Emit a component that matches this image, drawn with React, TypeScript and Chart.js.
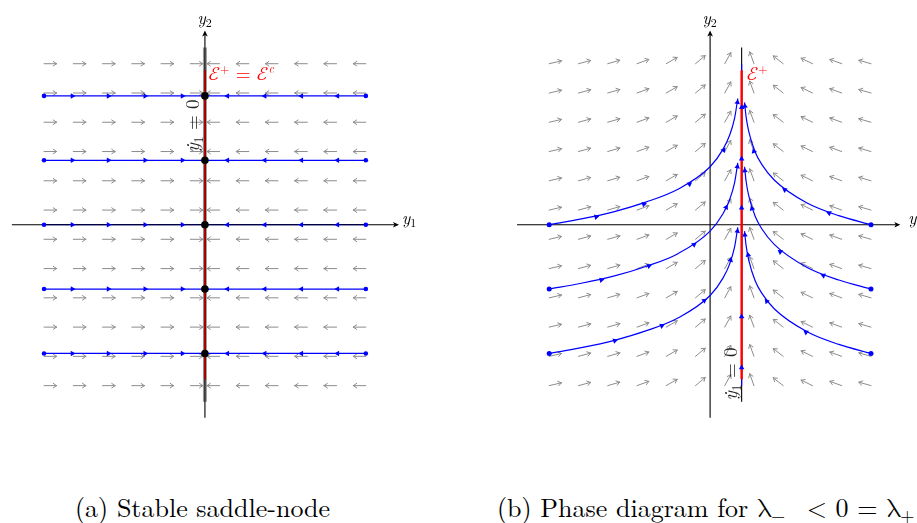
import React, { useEffect, useRef } from "react";
import { Chart, registerables } from "chart.js";

Chart.register(...registerables);

// ---------------- data ----------------
// vector-field sample grid (same for both coordinates)
const GRID = [-2.5, -2.045, -1.591, -1.136, -0.682, -0.227, 0.227, 0.682, 1.136, 1.591, 2.045, 2.5];
// arrow direction per grid column, degrees counter-clockwise from +y1
const FIELD_ANGLE_A = [0, 0, 0, 0, 0, 0, 180, 180, 180, 180, 180, 180];
const FIELD_ANGLE_B = [13, 15, 16, 20, 30, 40, 61, 110, 142, 154, 160, 164];

// axis extents
const AXIS_A_X = [-3, 3];
const AXIS_A_Y = [-3, 3];
const AXIS_B_X = [-3, 2.94];
const AXIS_B_Y = [-3, 3];

// panel (a): stable saddle-node
const A_LEVELS = [2, 1, 0, -1, -2];
const A_SPAN = [-2.5, 2.5];
const A_ARROW_Y1 = [-2.06, -1.5, -0.93, -0.35, 0.35, 0.93, 1.5, 2.06];
const A_NULLCLINE = [-2.75, 2.75];
const A_MANIFOLD = [-2.4, 2.4];

// panel (b): phase diagram
const B_EQ = 0.49;
const B_LEFT_Y1 = [-2.5, -2.0, -1.5, -1.0, -0.5, 0, 0.2, 0.3, 0.38, 0.43];
const B_L0_Y2 = [0, 0.09, 0.2, 0.35, 0.55, 0.9, 1.17, 1.38, 1.65, 1.96];
const B_L1_Y2 = [-1, -0.91, -0.8, -0.65, -0.45, -0.1, 0.17, 0.38, 0.65, 0.96];
const B_L2_Y2 = [-2, -1.91, -1.8, -1.65, -1.45, -1.1, -0.83, -0.62, -0.35, -0.04];
const B_RIGHT_Y1 = [2.5, 2.0, 1.5, 1.0, 0.8, 0.7, 0.6, 0.56, 0.535];
const B_R0_Y2 = [0, 0.14, 0.34, 0.69, 0.94, 1.13, 1.45, 1.67, 1.9];
const B_R1_Y2 = [-1, -0.86, -0.66, -0.31, -0.06, 0.13, 0.45, 0.67, 0.9];
const B_R2_Y2 = [-2, -1.86, -1.66, -1.31, -1.06, -0.87, -0.55, -0.33, -0.1];
const B_CENTER = [-2.5, 2.5];
const B_NULLCLINE = [-2.75, 2.75];
const B_MANIFOLD = [-2.4, 2.4];

const B_L0_ARROWS = [[-1.77, 0.12], [-1.03, 0.32], [-0.32, 0.63], [0.21, 1.16], [0.425, 1.9]];
const B_L1_ARROWS = [[-1.69, -0.86], [-0.95, -0.64], [-0.25, -0.31], [0.25, 0.27], [0.425, 0.9]];
const B_L2_ARROWS = [[-1.48, -1.8], [-0.75, -1.57], [-0.09, -1.18], [0.32, -0.55], [0.425, -0.1]];
const B_R0_ARROWS = [[1.85, 0.18], [1.16, 0.54], [0.68, 1.14], [0.54, 1.84]];
const B_R1_ARROWS = [[1.76, -0.79], [1.09, -0.42], [0.65, 0.25], [0.54, 0.84]];
const B_R2_ARROWS = [[1.49, -1.67], [0.88, -1.19], [0.59, -0.47], [0.54, -0.16]];
const B_CENTER_ARROWS = [-2.22, -1.43, 0.26, 1.02, 1.82];

const CAPTION_A = "(a) Stable saddle-node";
const CAPTION_B_PREFIX = "(b) Phase diagram for ";

// ---------------- styling / layout ----------------
const UNIT = 65.5; // px per unit, same on both axes
const BLUE = "#0000ff";
const RED = "#ff0000";
const FIELD_COLOR = "#8c8c8c";
const SERIF = '"Latin Modern Roman", "Liberation Serif", serif';
const MATH = '"Latin Modern Math", "Latin Modern Roman", "Liberation Serif", serif';
const W = 917;
const H = 523;
const CANVAS_H = 470;

type Part = { t: string; size: number; italic?: boolean; dy?: number; math?: boolean };
type Label = { x: number; y: number; dx: number; dy: number; rot?: number; color: string; parts: Part[] };

function pts(xs: number[], ys: number[]) {
  return xs.map((x, i) => ({ x, y: ys[i] }));
}

function flowRotation(cx: number[], cy: number[], px: number, py: number) {
  let best = 0;
  let bestD = Infinity;
  for (let i = 0; i < cx.length - 1; i++) {
    const ax = cx[i], ay = cy[i];
    const vx = cx[i + 1] - ax, vy = cy[i + 1] - ay;
    const l2 = vx * vx + vy * vy;
    let t = ((px - ax) * vx + (py - ay) * vy) / l2;
    t = Math.max(0, Math.min(1, t));
    const dx = ax + t * vx - px, dy = ay + t * vy - py;
    const d = dx * dx + dy * dy;
    if (d < bestD) {
      bestD = d;
      best = i;
    }
  }
  const vx = cx[best + 1] - cx[best];
  const vy = cy[best + 1] - cy[best];
  return (Math.atan2(vx, vy) * 180) / Math.PI;
}

function tip(ctx: CanvasRenderingContext2D, x: number, y: number, ang: number) {
  ctx.save();
  ctx.translate(x, y);
  ctx.rotate(ang);
  ctx.beginPath();
  ctx.moveTo(1, 0);
  ctx.lineTo(-5, -2.8);
  ctx.lineTo(-3.5, 0);
  ctx.lineTo(-5, 2.8);
  ctx.closePath();
  ctx.fill();
  ctx.restore();
}

function drawField(chart: any, angles: number[]) {
  const { ctx } = chart;
  const xs = chart.scales.x;
  const ys = chart.scales.y;
  const L = 12.5;
  ctx.save();
  ctx.strokeStyle = FIELD_COLOR;
  ctx.lineWidth = 1;
  ctx.lineCap = "round";
  GRID.forEach((gx, ci) => {
    const a = (angles[ci] * Math.PI) / 180;
    GRID.forEach((gy) => {
      const px = xs.getPixelForValue(gx);
      const py = ys.getPixelForValue(gy);
      const ex = px + L * Math.cos(a);
      const ey = py - L * Math.sin(a);
      ctx.beginPath();
      ctx.moveTo(px, py);
      ctx.lineTo(ex, ey);
      const back = Math.atan2(py - ey, px - ex);
      for (const s of [-0.6, 0.6]) {
        ctx.moveTo(ex, ey);
        ctx.lineTo(ex + 4 * Math.cos(back + s), ey + 4 * Math.sin(back + s));
      }
      ctx.stroke();
    });
  });
  ctx.restore();
}

function drawAxes(chart: any, ax: number[], ay: number[]) {
  const { ctx } = chart;
  const xs = chart.scales.x;
  const ys = chart.scales.y;
  const xz = xs.getPixelForValue(0);
  const yz = ys.getPixelForValue(0);
  const x0 = xs.getPixelForValue(ax[0]);
  const x1 = xs.getPixelForValue(ax[1]);
  const y0 = ys.getPixelForValue(ay[0]);
  const y1 = ys.getPixelForValue(ay[1]);
  ctx.save();
  ctx.strokeStyle = "#000";
  ctx.fillStyle = "#000";
  ctx.lineWidth = 1.1;
  ctx.beginPath();
  ctx.moveTo(x0, yz);
  ctx.lineTo(x1 - 3, yz);
  ctx.moveTo(xz, y0);
  ctx.lineTo(xz, y1 + 3);
  ctx.stroke();
  tip(ctx, x1, yz, 0);
  tip(ctx, xz, y1, -Math.PI / 2);
  ctx.restore();
}

function drawLabels(chart: any, labels: Label[]) {
  const { ctx } = chart;
  const xs = chart.scales.x;
  const ys = chart.scales.y;
  for (const lb of labels) {
    const px = xs.getPixelForValue(lb.x) + lb.dx;
    const py = ys.getPixelForValue(lb.y) + lb.dy;
    ctx.save();
    ctx.translate(px, py);
    if (lb.rot) ctx.rotate((lb.rot * Math.PI) / 180);
    ctx.fillStyle = lb.color;
    ctx.textBaseline = "alphabetic";
    ctx.textAlign = "left";
    let cx = 0;
    for (const p of lb.parts) {
      ctx.font = `${p.italic ? "italic " : ""}${p.size}px ${p.math ? MATH : SERIF}`;
      ctx.fillText(p.t, cx, p.dy || 0);
      cx += ctx.measureText(p.t).width;
    }
    ctx.restore();
  }
}

type PanelCfg = {
  datasets: any[];
  angles: number[];
  axisX: number[];
  axisY: number[];
  axesAfterIndex: number;
  labels: Label[];
};

function makePlugin(cfg: PanelCfg, id: string) {
  return {
    id,
    beforeDatasetsDraw(chart: any) {
      drawField(chart, cfg.angles);
      if (cfg.axesAfterIndex < 0) drawAxes(chart, cfg.axisX, cfg.axisY);
    },
    afterDatasetDraw(chart: any, args: any) {
      if (args.index === cfg.axesAfterIndex) drawAxes(chart, cfg.axisX, cfg.axisY);
    },
    afterDraw(chart: any) {
      drawLabels(chart, cfg.labels);
    },
  };
}

const seg = (xs: number[], ys: number[], color: string, width: number, order: number) => ({
  data: pts(xs, ys),
  borderColor: color,
  borderWidth: width,
  pointRadius: 0,
  fill: false,
  order,
});

const Y2: Part[] = [{ t: "y", size: 17, italic: true }, { t: "2", size: 12, dy: 3 }];
const Y1: Part[] = [{ t: "y", size: 17, italic: true }, { t: "1", size: 12, dy: 3 }];
const NULLCLINE_TEXT: Part[] = [{ t: "ẏ", size: 19, italic: true }, { t: "1", size: 13, dy: 3.5 }, { t: " = 0", size: 19 }];

function buildA(): PanelCfg {
  const datasets: any[] = [];
  datasets.push(seg([0, 0], A_NULLCLINE, "#9a9a9a", 4, 80));
  A_LEVELS.forEach((lv, i) => {
    datasets.push(seg(A_SPAN, [lv, lv], BLUE, 1.2, 60 + i));
  });
  const axesAfterIndex = datasets.length - A_LEVELS.length;
  datasets.push(seg([0, 0], A_MANIFOLD, "#000", 2, 41));
  datasets.push(seg([0, 0], A_MANIFOLD, RED, 1.3, 40));
  const arrows: any[] = [];
  const rots: number[] = [];
  A_LEVELS.forEach((lv) => {
    A_ARROW_Y1.forEach((x) => {
      arrows.push({ x, y: lv });
      rots.push(flowRotation([x, 0], [lv, lv], x, lv));
    });
  });
  datasets.push({
    data: arrows,
    showLine: false,
    pointStyle: "triangle",
    pointRotation: rots,
    pointRadius: 3.2,
    pointBorderWidth: 0,
    pointBackgroundColor: BLUE,
    order: 50,
  });
  const ends: any[] = [];
  A_LEVELS.forEach((lv) => A_SPAN.forEach((x) => ends.push({ x, y: lv })));
  datasets.push({
    data: ends,
    showLine: false,
    pointRadius: 2.3,
    pointBorderWidth: 0,
    pointBackgroundColor: BLUE,
    order: 45,
  });
  datasets.push({
    data: A_LEVELS.map((lv) => ({ x: 0, y: lv })),
    showLine: false,
    pointRadius: 3.8,
    pointBorderWidth: 0,
    pointBackgroundColor: "#000",
    order: 10,
  });
  const labels: Label[] = [
    { x: 0, y: AXIS_A_Y[1], dx: -7.5, dy: -7.5, color: "#000", parts: Y2 },
    { x: AXIS_A_X[1], y: 0, dx: 4, dy: -1, color: "#000", parts: Y1 },
    {
      x: 0, y: A_MANIFOLD[1], dx: 3.5, dy: 9.5, color: RED,
      parts: [
        { t: "ℰ", size: 19, math: true },
        { t: "+", size: 12, dy: -7 },
        { t: " = ", size: 19 },
        { t: "ℰ", size: 19, math: true },
        { t: "c", size: 12, italic: true, dy: -7 },
      ],
    },
    { x: 0, y: 0, dx: -5.5, dy: -72.5, rot: -90, color: "#222", parts: NULLCLINE_TEXT },
  ];
  return { datasets, angles: FIELD_ANGLE_A, axisX: AXIS_A_X, axisY: AXIS_A_Y, axesAfterIndex, labels };
}

function buildB(): PanelCfg {
  const datasets: any[] = [];
  datasets.push(seg([B_EQ, B_EQ], B_NULLCLINE, "#000", 1.1, 90));
  datasets.push(seg([B_EQ, B_EQ], B_CENTER, BLUE, 1.2, 85));
  const curves: [number[], number[], number[][]][] = [
    [B_LEFT_Y1, B_L0_Y2, B_L0_ARROWS],
    [B_LEFT_Y1, B_L1_Y2, B_L1_ARROWS],
    [B_LEFT_Y1, B_L2_Y2, B_L2_ARROWS],
    [B_RIGHT_Y1, B_R0_Y2, B_R0_ARROWS],
    [B_RIGHT_Y1, B_R1_Y2, B_R1_ARROWS],
    [B_RIGHT_Y1, B_R2_Y2, B_R2_ARROWS],
  ];
  curves.forEach(([xs, ys], i) => {
    datasets.push({
      data: pts(xs, ys),
      borderColor: BLUE,
      borderWidth: 1.2,
      pointRadius: 0,
      cubicInterpolationMode: "monotone",
      fill: false,
      order: 70 + i,
    });
  });
  datasets.push(seg([B_EQ, B_EQ], B_MANIFOLD, RED, 2.4, 55));
  const arrows: any[] = [];
  const rots: number[] = [];
  curves.forEach(([xs, ys, ar]) => {
    ar.forEach(([x, y]) => {
      arrows.push({ x, y });
      rots.push(flowRotation(xs, ys, x, y));
    });
  });
  B_CENTER_ARROWS.forEach((y) => {
    arrows.push({ x: B_EQ, y });
    rots.push(flowRotation([B_EQ, B_EQ], B_CENTER, B_EQ, y));
  });
  datasets.push({
    data: arrows,
    showLine: false,
    pointStyle: "triangle",
    pointRotation: rots,
    pointRadius: 3.2,
    pointBorderWidth: 0,
    pointBackgroundColor: BLUE,
    order: 50,
  });
  datasets.push({
    data: curves.map(([xs, ys]) => ({ x: xs[0], y: ys[0] })),
    showLine: false,
    pointRadius: 2.5,
    pointBorderWidth: 0,
    pointBackgroundColor: BLUE,
    order: 45,
  });
  const labels: Label[] = [
    { x: 0, y: AXIS_B_Y[1], dx: -7.5, dy: -8, color: "#000", parts: Y2 },
    { x: AXIS_B_X[1], y: 0, dx: 9, dy: -1, color: "#000", parts: Y1 },
    { x: B_EQ, y: B_MANIFOLD[1], dx: 5, dy: 10, color: RED, parts: [{ t: "ℰ", size: 19, math: true }, { t: "+", size: 12, dy: -7 }] },
    { x: B_EQ, y: B_NULLCLINE[0], dx: -4.5, dy: -1.6, rot: -90, color: "#222", parts: NULLCLINE_TEXT },
  ];
  return { datasets, angles: FIELD_ANGLE_B, axisX: AXIS_B_X, axisY: AXIS_B_Y, axesAfterIndex: -1, labels };
}

function Panel(props: { left: number; width: number; ox: number; oy: number; build: () => PanelCfg; id: string }) {
  const ref = useRef<HTMLCanvasElement>(null);
  const { left, width, ox, oy, build, id } = props;
  useEffect(() => {
    const cfg = build();
    const chart = new Chart(ref.current as HTMLCanvasElement, {
      type: "line",
      data: { datasets: cfg.datasets },
      options: {
        responsive: false,
        animation: false,
        devicePixelRatio: 1,
        events: [],
        layout: { padding: 0 },
        plugins: { legend: { display: false }, tooltip: { enabled: false }, title: { display: false } },
        scales: {
          x: { type: "linear", display: false, min: -ox / UNIT, max: (width - ox) / UNIT },
          y: { type: "linear", display: false, min: -(CANVAS_H - oy) / UNIT, max: oy / UNIT },
        },
      } as any,
      plugins: [makePlugin(cfg, id) as any],
    });
    let alive = true;
    const fonts = (document as any).fonts;
    if (fonts && fonts.load) {
      Promise.all([
        fonts.load(`17px ${SERIF}`),
        fonts.load(`italic 17px ${SERIF}`),
        fonts.load(`17px ${MATH}`, "ℰ"),
      ]).then(() => {
        if (alive) chart.draw();
      });
    }
    return () => {
      alive = false;
      chart.destroy();
    };
  }, []);
  return (
    <canvas
      ref={ref}
      width={width}
      height={CANVAS_H}
      style={{ position: "absolute", left, top: 0, width, height: CANVAS_H }}
    />
  );
}

export default function App() {
  const capStyle: React.CSSProperties = {
    position: "absolute",
    top: 494,
    fontFamily: SERIF,
    fontSize: 26,
    lineHeight: "26px",
    whiteSpace: "nowrap",
    color: "#000",
  };
  const lam: React.CSSProperties = { fontFamily: MATH, fontStyle: "normal" };
  const sub: React.CSSProperties = { fontSize: "0.7em", verticalAlign: "-0.3em", lineHeight: 0 };
  return (
    <div style={{ position: "fixed", left: 0, top: 0, width: W, height: H, overflow: "hidden", background: "#fff" }}>
      <Panel id="panelA" left={0} width={458} ox={204.5} oy={224.5} build={buildA} />
      <Panel id="panelB" left={458} width={459} ox={252.5} oy={224.5} build={buildB} />
      <div style={{ ...capStyle, left: 75 }}>{CAPTION_A}</div>
      <div style={{ ...capStyle, left: 497 }}>
        {CAPTION_B_PREFIX}
        <span style={lam}>λ</span>
        <span style={sub}>−</span>
        {"\u00a0 < 0 = "}
        <span style={lam}>λ</span>
        <span style={sub}>+</span>
      </div>
    </div>
  );
}
